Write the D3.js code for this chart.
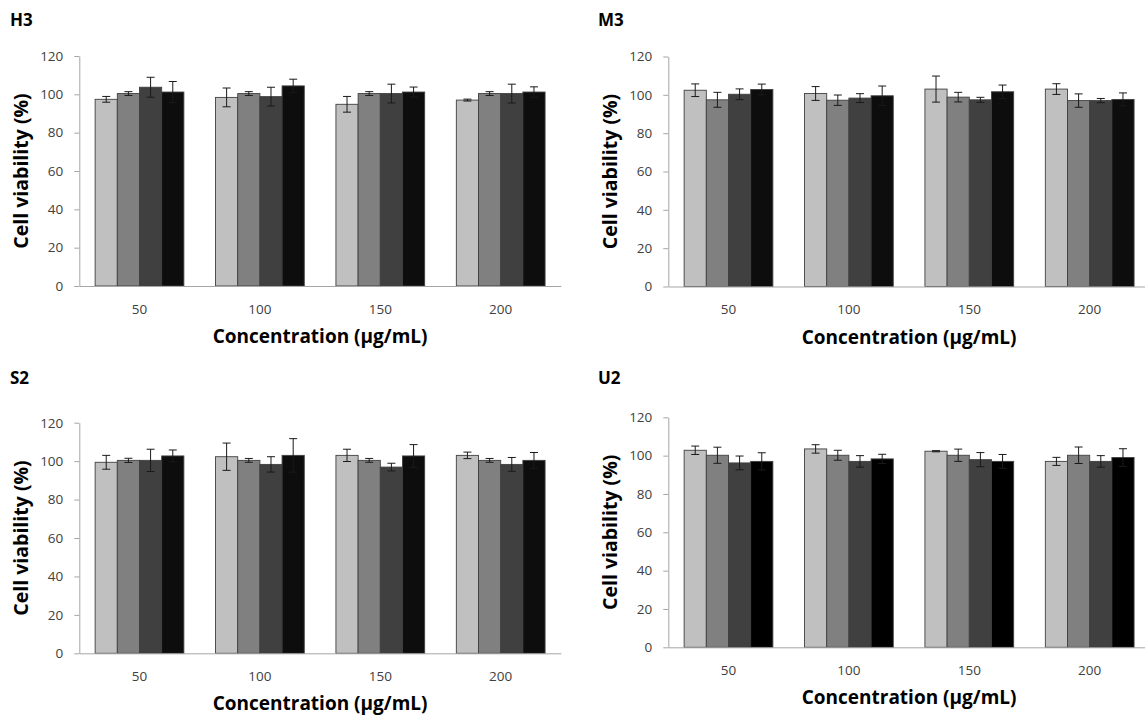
<!DOCTYPE html>
<html>
<head>
<meta charset="utf-8">
<script src="https://cdn.jsdelivr.net/npm/d3@7"></script>
<style>
  body { margin: 0; background: #fff; }
  svg { display: block; font-family: "Open Sans", sans-serif; }
</style>
</head>
<body>
<div id="chart"></div>
<script>
// categories / ticks
var concentrations = ["50", "100", "150", "200"];
var yTicks = [0, 20, 40, 60, 80, 100, 120];
var panelNames = ["H3", "M3", "S2", "U2"];

// mean cell viability (%) per concentration, 4 bars each
var h3Values = [[97.4, 100.4, 103.7, 101.2], [98.4, 100.4, 98.8, 104.4], [94.8, 100.4, 100.4, 101.2], [97.0, 100.4, 100.4, 101.2]];
var h3Errors = [[1.5, 1.0, 5.2, 5.5], [4.9, 1.0, 4.9, 3.5], [4.1, 1.0, 4.9, 2.6], [0.5, 1.0, 4.9, 2.7]];

var m3Values = [[102.4, 97.4, 100.3, 102.8], [100.7, 97.2, 98.3, 99.5], [103.0, 98.8, 97.4, 101.6], [103.0, 97.0, 97.0, 97.6]];
var m3Errors = [[3.3, 3.9, 2.8, 2.8], [3.6, 2.7, 2.3, 5.1], [6.8, 2.5, 1.3, 3.5], [2.8, 3.5, 1.1, 3.4]];

var s2Values = [[99.4, 100.4, 100.4, 102.7], [102.3, 100.4, 98.3, 103.0], [103.0, 100.4, 96.9, 102.7], [103.0, 100.4, 98.3, 100.4]];
var s2Errors = [[3.6, 1.1, 5.8, 3.1], [7.1, 1.0, 4.0, 8.7], [3.2, 1.0, 2.0, 5.9], [1.7, 1.0, 3.6, 4.1]];

var u2Values = [[102.8, 100.2, 96.2, 97.0], [103.5, 100.2, 97.0, 98.3], [102.3, 100.2, 97.9, 97.0], [97.0, 100.2, 97.0, 99.0]];
var u2Errors = [[2.2, 4.2, 3.6, 4.5], [2.2, 2.6, 3.0, 2.4], [0.3, 3.2, 3.7, 3.6], [2.1, 4.3, 3.0, 4.6]];

var xTitle = "Concentration (\u03bcg/mL)";
var yTitle = "Cell viability (%)";

// styles
var barColors = ["#c0c0c0", "#808080", "#404040", "#0d0d0d"];
var barColorsU2 = ["#c0c0c0", "#808080", "#404040", "#000000"];

// panel placement
var panels = [
    { name: panelNames[0], values: h3Values, errors: h3Errors, colors: barColors, left: 79.3, top: 56, bottom: 286, tx: 10, ty: 26 },
    { name: panelNames[1], values: m3Values, errors: m3Errors, colors: barColors, left: 668.3, top: 56.5, bottom: 286.5, tx: 598, ty: 26 },
    { name: panelNames[2], values: s2Values, errors: s2Errors, colors: barColors, left: 79.3, top: 422.7, bottom: 653.3, tx: 10, ty: 384 },
    { name: panelNames[3], values: u2Values, errors: u2Errors, colors: barColorsU2, left: 668.3, top: 417.3, bottom: 647.3, tx: 598, ty: 384 }
];
var plotWidth = 481.6;

var svg = d3.select("#chart").append("svg")
    .attr("width", 1145)
    .attr("height", 720);

panels.forEach(function (p) {
    var g = svg.append("g");

    var x0 = d3.scaleBand()
        .domain(concentrations)
        .range([p.left, p.left + plotWidth])
        .paddingInner(0.263)
        .paddingOuter(0.1315);
    var x1 = d3.scaleBand()
        .domain(d3.range(4))
        .range([0, x0.bandwidth()]);
    var y = d3.scaleLinear()
        .domain([0, 120])
        .range([p.bottom, p.top]);

    // y axis
    var yAxis = g.append("g")
        .attr("transform", "translate(" + p.left + ",0)")
        .call(d3.axisLeft(y).tickValues(yTicks).tickSize(5).tickSizeOuter(0).tickPadding(11));
    yAxis.select(".domain").attr("stroke", "#a6a6a6");
    yAxis.selectAll(".tick line").attr("stroke", "#a6a6a6");
    yAxis.selectAll(".tick text")
        .attr("fill", "#404040")
        .style("font-size", "13.5px")
        .style("font-family", "Open Sans");

    // bars
    concentrations.forEach(function (c, i) {
        var grp = g.append("g").attr("transform", "translate(" + x0(c) + ",0)");
        p.values[i].forEach(function (v, j) {
            grp.append("rect")
                .attr("x", x1(j))
                .attr("y", y(v))
                .attr("width", x1.bandwidth())
                .attr("height", y(0) - y(v))
                .attr("fill", p.colors[j])
                .attr("stroke", "#404040")
                .attr("stroke-width", 0.9);
        });
        // error bars
        p.values[i].forEach(function (v, j) {
            var e = p.errors[i][j];
            var cx = x1(j) + x1.bandwidth() / 2;
            grp.append("line")
                .attr("x1", cx).attr("x2", cx)
                .attr("y1", y(v - e)).attr("y2", y(v + e))
                .attr("stroke", "#1a1a1a").attr("stroke-width", 1);
            [v - e, v + e].forEach(function (t) {
                grp.append("line")
                    .attr("x1", cx - 4).attr("x2", cx + 4)
                    .attr("y1", y(t)).attr("y2", y(t))
                    .attr("stroke", "#1a1a1a").attr("stroke-width", 1);
            });
        });
    });

    // x axis
    var xAxis = g.append("g")
        .attr("transform", "translate(0," + p.bottom + ")")
        .call(d3.axisBottom(x0).tickSize(0).tickSizeOuter(0).tickPadding(18));
    xAxis.select(".domain").attr("stroke", "#a6a6a6");
    xAxis.selectAll(".tick text")
        .attr("fill", "#404040")
        .style("font-size", "13.5px")
        .style("font-family", "Open Sans");

    // axis titles
    g.append("text")
        .attr("x", p.left + plotWidth / 2)
        .attr("y", p.bottom + 57)
        .attr("text-anchor", "middle")
        .style("font-size", "19px")
        .style("font-weight", "bold")
        .text(xTitle);

    g.append("text")
        .attr("transform", "translate(" + (p.left - 51.5) + "," + ((p.top + p.bottom) / 2) + ") rotate(-90)")
        .attr("text-anchor", "middle")
        .style("font-size", "19.5px")
        .style("font-weight", "bold")
        .text(yTitle);

    // panel label
    g.append("text")
        .attr("x", p.tx)
        .attr("y", p.ty)
        .style("font-size", "17px")
        .style("font-weight", "bold")
        .text(p.name);
});
</script>
</body>
</html>
